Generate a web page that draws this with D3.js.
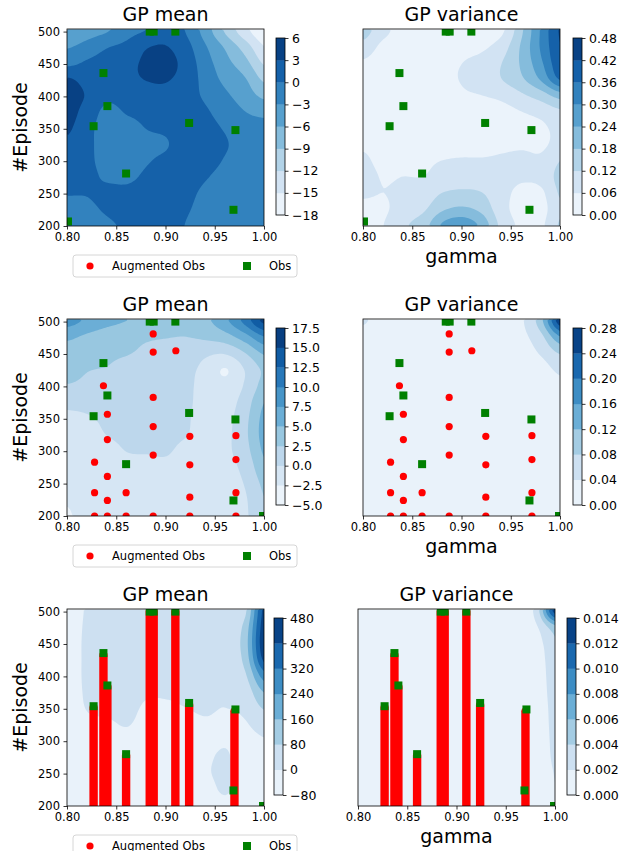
<!DOCTYPE html>
<html><head><meta charset="utf-8">
<script src="https://cdn.jsdelivr.net/npm/d3@7"></script>
<style>body{margin:0;background:#fff}svg{display:block}text{font-family:"DejaVu Sans",sans-serif}</style>
</head><body><svg id="c" width="624" height="851"></svg>
<script>
// ---------- data ----------
const gridX = [0.80, 0.82, 0.84, 0.86, 0.88, 0.90, 0.92, 0.94, 0.96, 0.98, 1.00];
const gridY = [200, 225, 250, 275, 300, 325, 350, 375, 400, 425, 450, 475, 500];

const xTicks = [0.80, 0.85, 0.90, 0.95, 1.00];
const xTickLabels = ["0.80", "0.85", "0.90", "0.95", "1.00"];
const yTicks = [200, 250, 300, 350, 400, 450, 500];
const yTickLabels = ["200", "250", "300", "350", "400", "450", "500"];

// row 1 GP mean (rows = gridY, cols = gridX)
const meanField1 = [
  [-1.5, -1.0, -0.4, 0.5, 1.2, 1.3, -0.1, -1.0, -1.4, -1.8, -2.5],
  [-0.8, -0.5, 0.4, 1.2, 1.5, 1.5, 0.3, -0.8, -1.3, -1.8, -2.5],
  [0.2, 0.2, 0.8, 0.8, 1.5, 1.5, 0.7, -0.5, -1.2, -1.8, -2.4],
  [1.2, 0.9, -0.6, -0.8, 0.6, 1.2, 1.2, 0.2, -0.8, -1.6, -2.2],
  [1.8, 0.8, -1.5, -1.8, -0.3, 0.6, 1.5, 0.9, -0.2, -1.3, -1.9],
  [2.5, 0.8, -1.6, -1.8, -0.8, -0.2, 1.6, 1.0, 0.2, -1.2, -1.8],
  [3.4, 1.0, -1.5, -1.0, 0.1, 0.6, 1.5, 0.8, -0.3, -1.8, -2.2],
  [4.0, 1.8, -0.8, 0.3, 0.8, 1.5, 1.3, 0.3, -1.3, -3.0, -3.8],
  [4.2, 2.7, 0.8, 1.5, 2.0, 2.2, 1.1, -0.5, -2.5, -4.5, -6.8],
  [3.3, 2.0, 1.8, 2.4, 3.1, 3.2, 1.8, -1.2, -3.8, -5.8, -9.7],
  [-0.8, 0.5, 1.5, 2.2, 3.5, 4.0, 1.8, -1.8, -5.0, -8.0, -12.5],
  [-3.2, -2.0, -0.2, 0.8, 2.8, 3.1, 1.0, -2.8, -6.5, -10.5, -15.0],
  [-4.5, -4.0, -3.2, -1.0, 0.1, 1.5, -0.2, -4.5, -9.5, -14.0, -17.5]
];
const varField1 = [
  [0.01, 0.06, 0.11, 0.15, 0.25, 0.28, 0.22, 0.10, 0.05, 0.05, 0.13],
  [0.04, 0.05, 0.09, 0.11, 0.17, 0.19, 0.16, 0.08, 0.04, 0.04, 0.11],
  [0.07, 0.06, 0.075, 0.085, 0.12, 0.13, 0.12, 0.08, 0.045, 0.05, 0.13],
  [0.08, 0.055, 0.06, 0.06, 0.08, 0.09, 0.09, 0.085, 0.07, 0.08, 0.14],
  [0.07, 0.04, 0.045, 0.05, 0.06, 0.065, 0.065, 0.07, 0.075, 0.07, 0.12],
  [0.05, 0.03, 0.03, 0.03, 0.035, 0.035, 0.035, 0.045, 0.05, 0.05, 0.08],
  [0.04, 0.02, 0.02, 0.02, 0.02, 0.02, 0.02, 0.03, 0.04, 0.05, 0.08],
  [0.03, 0.02, 0.015, 0.01, 0.015, 0.025, 0.03, 0.04, 0.06, 0.08, 0.11],
  [0.02, 0.02, 0.015, 0.015, 0.02, 0.05, 0.06, 0.075, 0.11, 0.15, 0.21],
  [0.03, 0.02, 0.02, 0.02, 0.04, 0.065, 0.085, 0.12, 0.17, 0.25, 0.37],
  [0.05, 0.02, 0.02, 0.02, 0.04, 0.06, 0.08, 0.12, 0.19, 0.29, 0.41],
  [0.10, 0.04, 0.02, 0.02, 0.02, 0.04, 0.05, 0.09, 0.19, 0.31, 0.42],
  [0.14, 0.08, 0.03, 0.02, 0.01, 0.02, 0.03, 0.05, 0.17, 0.31, 0.43]
];
const meanField2 = [
  [-2.7, -1.5, -1.5, -1.4, -1.3, -1.2, -1.1, -1.0, -0.9, -0.3, 2.0],
  [-2.2, -1.4, -1.4, -1.3, -1.2, -1.2, -1.1, -1.0, -0.9, -0.2, 2.5],
  [-1.5, -1.4, -1.3, -1.2, -1.1, -1.1, -1.1, -1.0, -0.8, 0.2, 3.2],
  [-1.5, -1.3, -1.2, -0.8, -0.6, -0.4, -0.9, -1.0, -0.7, 0.8, 4.5],
  [-1.4, -1.2, -0.8, 0.1, 0.2, 0.2, -0.5, -0.9, -0.5, 1.6, 5.5],
  [-1.2, -0.9, 0.1, 0.6, 0.8, 0.5, 0.1, -0.9, -0.6, 2.0, 6.0],
  [-0.6, -0.2, 0.5, 1.0, 1.1, 0.9, 0.3, -1.0, -0.8, 1.8, 5.8],
  [0.8, 0.8, 1.0, 1.3, 1.3, 1.1, 0.5, -1.0, -1.2, 1.2, 5.0],
  [2.4, 2.0, 1.5, 1.5, 1.5, 1.3, 0.6, -1.0, -1.8, 0.3, 3.5],
  [3.2, 2.6, 2.4, 2.0, 1.8, 1.6, 0.8, -0.8, -2.6, 0.2, 3.0],
  [4.0, 3.2, 2.8, 2.6, 2.2, 2.0, 1.5, 0.5, 0.3, 2.5, 5.5],
  [5.5, 4.5, 3.6, 3.2, 2.8, 2.6, 2.5, 3.0, 4.0, 6.5, 10.0],
  [8.5, 7.0, 5.8, 5.0, 4.6, 4.2, 3.5, 4.5, 7.0, 11.0, 16.0]
];
const varField2 = [
  [0.015, 0.015, 0.015, 0.015, 0.015, 0.015, 0.015, 0.015, 0.015, 0.015, 0.02],
  [0.015, 0.015, 0.015, 0.015, 0.015, 0.015, 0.015, 0.015, 0.015, 0.015, 0.02],
  [0.015, 0.015, 0.015, 0.015, 0.015, 0.015, 0.015, 0.015, 0.015, 0.015, 0.02],
  [0.015, 0.015, 0.015, 0.015, 0.015, 0.015, 0.015, 0.015, 0.015, 0.015, 0.02],
  [0.015, 0.015, 0.015, 0.015, 0.015, 0.015, 0.015, 0.015, 0.015, 0.015, 0.02],
  [0.015, 0.015, 0.015, 0.015, 0.015, 0.015, 0.015, 0.015, 0.015, 0.015, 0.02],
  [0.015, 0.015, 0.015, 0.015, 0.015, 0.015, 0.015, 0.015, 0.015, 0.015, 0.02],
  [0.015, 0.015, 0.015, 0.015, 0.015, 0.015, 0.015, 0.015, 0.015, 0.015, 0.02],
  [0.015, 0.015, 0.015, 0.015, 0.015, 0.015, 0.015, 0.015, 0.015, 0.018, 0.03],
  [0.015, 0.015, 0.015, 0.015, 0.015, 0.015, 0.015, 0.015, 0.017, 0.025, 0.05],
  [0.015, 0.015, 0.015, 0.015, 0.015, 0.015, 0.015, 0.016, 0.022, 0.045, 0.085],
  [0.02, 0.015, 0.015, 0.015, 0.015, 0.015, 0.015, 0.018, 0.03, 0.07, 0.16],
  [0.045, 0.015, 0.015, 0.015, 0.015, 0.015, 0.018, 0.025, 0.035, 0.11, 0.275]
];
const meanField3 = [
  [-25, -20, -20, -20, -20, -20, -20, -20, -10, -25, -25],
  [-25, -20, -20, -20, -20, -20, -20, -15, 6, -25, -25],
  [-25, -20, -20, -20, -20, -20, -20, -5, 8, -25, -25],
  [-25, -20, -20, -20, -20, -20, -20, -8, 5, -25, -20],
  [-25, -20, -15, -10, -20, -20, -20, -15, -5, -20, -5],
  [-25, -10, -5, 2, -12, -12, -10, -5, -8, -5, 35],
  [-25, 3, 8, 10, -5, -5, 0, 5, 0, 15, 90],
  [-25, 8, 15, 15, 5, 5, 8, 10, 8, 35, 170],
  [-25, 10, 15, 15, 15, 15, 15, 15, 15, 70, 290],
  [-25, 10, 15, 15, 15, 15, 15, 15, 20, 110, 430],
  [-25, 10, 15, 15, 15, 15, 15, 15, 25, 125, 475],
  [-25, 8, 15, 15, 15, 15, 15, 15, 20, 110, 460],
  [-25, 5, 12, 12, 12, 15, 15, 15, 15, 65, 440]
];
const varField3 = [
  [0.001, 0.001, 0.001, 0.001, 0.001, 0.001, 0.001, 0.001, 0.001, 0.001, 0.0019],
  [0.001, 0.001, 0.001, 0.001, 0.001, 0.001, 0.001, 0.001, 0.001, 0.001, 0.0020],
  [0.001, 0.001, 0.001, 0.001, 0.001, 0.001, 0.001, 0.001, 0.001, 0.001, 0.0021],
  [0.001, 0.001, 0.001, 0.001, 0.001, 0.001, 0.001, 0.001, 0.001, 0.001, 0.0023],
  [0.001, 0.001, 0.001, 0.001, 0.001, 0.001, 0.001, 0.001, 0.001, 0.001, 0.0024],
  [0.001, 0.001, 0.001, 0.001, 0.001, 0.001, 0.001, 0.001, 0.001, 0.001, 0.0025],
  [0.001, 0.001, 0.001, 0.001, 0.001, 0.001, 0.001, 0.001, 0.001, 0.001, 0.0026],
  [0.001, 0.001, 0.001, 0.001, 0.001, 0.001, 0.001, 0.001, 0.001, 0.001, 0.0028],
  [0.001, 0.001, 0.001, 0.001, 0.001, 0.001, 0.001, 0.001, 0.001, 0.001, 0.0030],
  [0.001, 0.001, 0.001, 0.001, 0.001, 0.001, 0.001, 0.001, 0.001, 0.001, 0.0033],
  [0.001, 0.001, 0.001, 0.001, 0.001, 0.001, 0.001, 0.001, 0.001, 0.0012, 0.0038],
  [0.001, 0.001, 0.001, 0.001, 0.001, 0.001, 0.001, 0.001, 0.001, 0.0018, 0.0055],
  [0.001, 0.001, 0.001, 0.001, 0.001, 0.001, 0.001, 0.001, 0.0012, 0.0028, 0.0135]
];

const meanLevels1 = [-18, -15, -12, -9, -6, -3, 0, 3, 6];
const meanLabels1 = ["\u221218", "\u221215", "\u221212", "\u22129", "\u22126", "\u22123", "0", "3", "6"];
const varLevels1 = [0, 0.06, 0.12, 0.18, 0.24, 0.30, 0.36, 0.42, 0.48];
const varLabels1 = ["0.00", "0.06", "0.12", "0.18", "0.24", "0.30", "0.36", "0.42", "0.48"];
const meanLevels2 = [-5, -2.5, 0, 2.5, 5, 7.5, 10, 12.5, 15, 17.5];
const meanLabels2 = ["\u22125.0", "\u22122.5", "0.0", "2.5", "5.0", "7.5", "10.0", "12.5", "15.0", "17.5"];
const varLevels2 = [0, 0.04, 0.08, 0.12, 0.16, 0.20, 0.24, 0.28];
const varLabels2 = ["0.00", "0.04", "0.08", "0.12", "0.16", "0.20", "0.24", "0.28"];
const meanLevels3 = [-80, 0, 80, 160, 240, 320, 400, 480];
const meanLabels3 = ["\u221280", "0", "80", "160", "240", "320", "400", "480"];
const varLevels3 = [0, 0.002, 0.004, 0.006, 0.008, 0.010, 0.012, 0.014];
const varLabels3 = ["0.000", "0.002", "0.004", "0.006", "0.008", "0.010", "0.012", "0.014"];

// observations
const obsX1 = [0.884, 0.888, 0.910, 0.837, 0.841, 0.827, 0.924, 0.971, 0.860, 0.969, 0.801];
const obsY1 = [500, 500, 500, 436, 385, 354, 359, 348, 281, 225, 207];
const obsX23 = [0.884, 0.888, 0.910, 0.837, 0.841, 0.827, 0.924, 0.971, 0.860, 0.969, 0.999];
const obsY23 = [500, 500, 500, 436, 386, 354, 359, 349, 280, 224, 200];

// augmented observations, row 2 (points)
const augX2 = [0.828, 0.828, 0.828, 0.837, 0.841, 0.841, 0.841, 0.841, 0.841, 0.860, 0.860,
  0.8875, 0.8875, 0.8875, 0.8875, 0.8875, 0.8875, 0.9105, 0.9247, 0.9247, 0.9247, 0.9247,
  0.9715, 0.9715, 0.9715, 0.9715];
const augY2 = [283, 236, 200, 401, 357, 318, 261, 224, 200, 236, 200,
  481, 453, 383, 338, 294, 200, 455, 323, 279, 229, 200,
  324, 287, 236, 200];
// augmented observations, row 3 (dense columns from 200 up to top)
const augColX3 = [0.827, 0.837, 0.841, 0.860, 0.884, 0.888, 0.910, 0.924, 0.970];
const augColTop3 = [352, 433, 384, 278, 500, 500, 500, 356, 346];

// ---------- drawing ----------
const svg = d3.select("#c");
const Blues = d3.piecewise(d3.interpolateRgb, ["#f7fbff", "#deebf7", "#c6dbef", "#9ecae1", "#6baed6", "#4292c6", "#2171b5", "#08519c", "#08306b"]);
const W = 197, H = 197, FX = 10, FY = 8;
const FONT = "DejaVu Sans";

function upsample(field, fx, fy) {
  const ny = field.length, nx = field[0].length;
  const NX = (nx - 1) * fx + 1, NY = (ny - 1) * fy + 1;
  const cr = (p0, p1, p2, p3, t) => 0.5 * (2 * p1 + (-p0 + p2) * t + (2 * p0 - 5 * p1 + 4 * p2 - p3) * t * t + (-p0 + 3 * p1 - 3 * p2 + p3) * t * t * t);
  const cl = (v, n) => Math.max(0, Math.min(n - 1, v));
  const rows = field.map(row => {
    const out = new Array(NX);
    for (let I = 0; I < NX; I++) {
      const u = I / fx; let i = Math.floor(u); if (i >= nx - 1) i = nx - 2; const t = u - i;
      out[I] = cr(row[cl(i - 1, nx)], row[cl(i, nx)], row[cl(i + 1, nx)], row[cl(i + 2, nx)], t);
    }
    return out;
  });
  const vals = new Float64Array(NX * NY);
  for (let J = 0; J < NY; J++) {
    const v = J / fy; let j = Math.floor(v); if (j >= ny - 1) j = ny - 2; const t = v - j;
    const a = rows[cl(j - 1, ny)], b = rows[cl(j, ny)], c = rows[cl(j + 1, ny)], d = rows[cl(j + 2, ny)];
    for (let I = 0; I < NX; I++) vals[J * NX + I] = cr(a[I], b[I], c[I], d[I], t);
  }
  return { vals, NX, NY };
}

function styleAxis(a, fs) {
  a.select(".domain").remove();
  a.attr("font-family", FONT).attr("font-size", fs);
  a.selectAll("line").attr("stroke", "#000").attr("stroke-width", 0.8);
  a.selectAll("text").attr("fill", "#000");
}

let clipN = 0;
function drawPanel(p) {
  const g = svg.append("g");
  const xs = d3.scaleLinear().domain([0.80, 1.00]).range([p.x, p.x + W]);
  const ys = d3.scaleLinear().domain([200, 504]).range([p.y + H, p.y]);
  const cid = "clip" + (clipN++);
  svg.append("clipPath").attr("id", cid).append("rect").attr("x", p.x).attr("y", p.y).attr("width", W).attr("height", H);
  const body = g.append("g").attr("clip-path", `url(#${cid})`);

  const { vals, NX, NY } = upsample(p.field, FX, FY);
  const lv = p.levels, N = lv.length - 1;
  for (let k = 0; k < vals.length; k++) vals[k] = Math.max(lv[0], Math.min(lv[N] - 1e-9, vals[k]));
  const x0 = gridX[0], x1 = gridX[gridX.length - 1], y0 = gridY[0], y1 = gridY[gridY.length - 1];
  const proj = d3.geoTransform({ point(x, y) { this.stream.point(xs(x0 + (x1 - x0) * x / (NX - 1)), ys(y0 + (y1 - y0) * y / (NY - 1))); } });
  const path = d3.geoPath(proj);
  const cs = d3.contours().size([NX, NY]).thresholds(lv.slice(0, N))(vals);
  body.selectAll("path.band").data(cs).join("path").attr("class", "band")
    .attr("d", path).attr("fill", (d, i) => Blues((i + 0.5) / N));

  if (p.augX) {
    body.selectAll("circle.aug").data(p.augX).join("circle").attr("class", "aug")
      .attr("cx", d => xs(d)).attr("cy", (d, i) => ys(p.augY[i])).attr("r", 3.6).attr("fill", "#ff0000");
  }
  if (p.augColX) {
    body.selectAll("rect.augc").data(p.augColX).join("rect").attr("class", "augc")
      .attr("x", d => xs(d) - 4.2).attr("width", 8.4)
      .attr("y", (d, i) => ys(p.augColTop[i]) - 4.2)
      .attr("height", (d, i) => ys(200) - ys(p.augColTop[i]) + 8.4)
      .attr("rx", 4.2).attr("fill", "#ff0000");
  }
  body.selectAll("rect.obs").data(p.obsX).join("rect").attr("class", "obs")
    .attr("x", d => xs(d) - 4).attr("y", (d, i) => ys(p.obsY[i]) - 4)
    .attr("width", 8).attr("height", 8).attr("fill", "#008000");

  g.append("rect").attr("x", p.x).attr("y", p.y).attr("width", W).attr("height", H)
    .attr("fill", "none").attr("stroke", "#000").attr("stroke-width", 0.8);

  g.append("g").attr("transform", `translate(0,${p.y + H})`)
    .call(d3.axisBottom(xs).tickValues(xTicks).tickFormat((d, i) => xTickLabels[i]).tickSize(3.5).tickPadding(3.5).tickSizeOuter(0))
    .call(a => styleAxis(a, 11.5));
  if (p.left) {
    g.append("g").attr("transform", `translate(${p.x},0)`)
      .call(d3.axisLeft(ys).tickValues(yTicks).tickFormat((d, i) => yTickLabels[i]).tickSize(3.5).tickPadding(3.5).tickSizeOuter(0))
      .call(a => styleAxis(a, 11.5));
    g.append("text").attr("transform", `translate(27,${p.y + H / 2}) rotate(-90)`)
      .attr("text-anchor", "middle").attr("font-size", 19).attr("fill", "#000").text("#Episode");
  } else {
    g.append("text").attr("x", p.x + W / 2).attr("y", p.y + H + 37)
      .attr("text-anchor", "middle").attr("font-size", 19).attr("fill", "#000").text("gamma");
  }
  g.append("text").attr("x", p.x + W / 2).attr("y", p.y - 8)
    .attr("text-anchor", "middle").attr("font-size", 19).attr("fill", "#000").text(p.title);

  // colorbar
  const cbTop = p.y + 9, cbH = 177, cbW = 9;
  const cs2 = d3.scaleLinear().domain([lv[0], lv[N]]).range([cbTop + cbH, cbTop]);
  const cg = svg.append("g");
  cg.selectAll("rect").data(d3.range(N)).join("rect")
    .attr("x", p.cbx).attr("width", cbW)
    .attr("y", i => cs2(lv[i + 1])).attr("height", i => cs2(lv[i]) - cs2(lv[i + 1]) + 0.3)
    .attr("fill", i => Blues((i + 0.5) / N));
  cg.append("rect").attr("x", p.cbx).attr("y", cbTop).attr("width", cbW).attr("height", cbH)
    .attr("fill", "none").attr("stroke", "#000").attr("stroke-width", 0.8);
  cg.append("g").attr("transform", `translate(${p.cbx + cbW},0)`)
    .call(d3.axisRight(cs2).tickValues(lv).tickFormat((d, i) => p.labels[i]).tickSize(3.5).tickPadding(3.5).tickSizeOuter(0))
    .call(a => styleAxis(a, 12.5));

  if (p.legend) {
    const ly = p.y + H + 29;
    const lg = svg.append("g");
    lg.append("rect").attr("x", 73).attr("y", ly).attr("width", 224).attr("height", 22).attr("rx", 3)
      .attr("fill", "#fff").attr("fill-opacity", 0.8).attr("stroke", "#cccccc").attr("stroke-width", 0.8);
    lg.append("circle").attr("cx", 90).attr("cy", ly + 11).attr("r", 3.6).attr("fill", "#ff0000");
    lg.append("text").attr("x", 112).attr("y", ly + 14.5).attr("font-size", 11.5).attr("fill", "#000").text("Augmented Obs");
    lg.append("rect").attr("x", 243).attr("y", ly + 7).attr("width", 8).attr("height", 8).attr("fill", "#008000");
    lg.append("text").attr("x", 269).attr("y", ly + 14.5).attr("font-size", 11.5).attr("fill", "#000").text("Obs");
  }
}

const rowTop = [29, 319, 609];
const panels = [
  { x: 67, y: rowTop[0], left: true, legend: true, title: "GP mean", field: meanField1, levels: meanLevels1, labels: meanLabels1, cbx: 276, obsX: obsX1, obsY: obsY1 },
  { x: 363, y: rowTop[0], left: false, title: "GP variance", field: varField1, levels: varLevels1, labels: varLabels1, cbx: 573, obsX: obsX1, obsY: obsY1 },
  { x: 67, y: rowTop[1], left: true, legend: true, title: "GP mean", field: meanField2, levels: meanLevels2, labels: meanLabels2, cbx: 276, obsX: obsX23, obsY: obsY23, augX: augX2, augY: augY2 },
  { x: 363, y: rowTop[1], left: false, title: "GP variance", field: varField2, levels: varLevels2, labels: varLabels2, cbx: 573, obsX: obsX23, obsY: obsY23, augX: augX2, augY: augY2 },
  { x: 67, y: rowTop[2], left: true, legend: true, title: "GP mean", field: meanField3, levels: meanLevels3, labels: meanLabels3, cbx: 274, obsX: obsX23, obsY: obsY23, augColX: augColX3, augColTop: augColTop3 },
  { x: 358, y: rowTop[2], left: false, title: "GP variance", field: varField3, levels: varLevels3, labels: varLabels3, cbx: 567, obsX: obsX23, obsY: obsY23, augColX: augColX3, augColTop: augColTop3 }
];
panels.forEach(drawPanel);
</script>
</body></html>
